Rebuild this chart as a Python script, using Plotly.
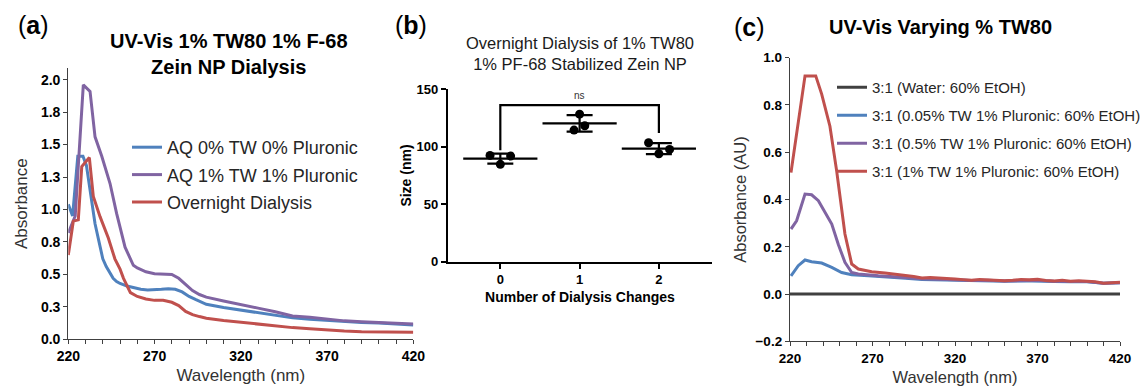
import plotly.graph_objects as go
import numpy as np

FONT = "Liberation Sans, Arial, sans-serif"
W, H = 1147, 389

# ---------------- Panel (a) data ----------------
a_blue_wl = [220, 222.5, 225.5, 228.5, 230.5, 233.5, 235.5, 238.5, 240, 242, 244, 246, 248, 250, 254, 258,
             262, 266, 270, 274, 278, 282, 286, 290, 294, 300, 310, 320, 330, 340, 350, 360, 370, 380,
             390, 400, 410, 420]
a_blue_abs = [1.04, 0.95, 1.41, 1.41, 1.34, 1.07, 0.89, 0.71, 0.62, 0.56, 0.51, 0.47, 0.445, 0.43, 0.41, 0.395,
              0.385, 0.38, 0.38, 0.385, 0.39, 0.385, 0.365, 0.33, 0.305, 0.27, 0.245, 0.225, 0.205, 0.19,
              0.165, 0.155, 0.145, 0.138, 0.13, 0.125, 0.115, 0.11]

a_purple_wl = [220, 224, 228.7, 232.6, 235.5, 239.4, 244.2, 248, 252.9, 257.7, 260, 265, 270, 275, 280, 284,
               288, 292, 296, 300, 310, 320, 330, 340, 350, 360, 370, 380, 390, 400, 410, 420]
a_purple_abs = [0.82, 0.95, 1.96, 1.91, 1.56, 1.41, 1.20, 0.97, 0.71, 0.57, 0.55, 0.52, 0.505, 0.505, 0.50, 0.47,
                0.42, 0.375, 0.345, 0.325, 0.295, 0.265, 0.24, 0.212, 0.18, 0.17, 0.155, 0.142, 0.136, 0.13,
                0.12, 0.118]

a_red_wl = [220, 222.9, 225.8, 227.8, 232.2, 234.5, 238.4, 243.2, 247, 250, 252, 254, 256, 260, 265, 270, 275,
            280, 284, 288, 292, 296, 300, 310, 320, 330, 340, 350, 360, 370, 380, 390, 400, 410, 420]
a_red_abs = [0.65, 0.91, 0.92, 1.33, 1.40, 1.10, 0.945, 0.78, 0.62, 0.54, 0.47, 0.41, 0.36, 0.33, 0.31, 0.30,
             0.30, 0.285, 0.26, 0.215, 0.19, 0.175, 0.162, 0.145, 0.13, 0.116, 0.103, 0.09, 0.082, 0.072,
             0.064, 0.059, 0.056, 0.054, 0.054]

a_names = ["AQ 0% TW 0% Pluronic", "AQ 1% TW 1% Pluronic", "Overnight Dialysis"]
a_ytickvals = [0.0, 0.25, 0.5, 0.75, 1.0, 1.25, 1.5, 1.75, 2.0]
a_yticktext = ["0.0", "0.3", "0.5", "0.8", "1.0", "1.3", "1.5", "1.8", "2.0"]
a_xtickvals = [220, 270, 320, 370, 420]

# ---------------- Panel (b) data ----------------
b_changes = [0, 1, 2]
b_replicates = [[92.5, 91.9, 84.7],
                [128.4, 118.3, 114.5],
                [103.5, 97.7, 93.9]]
b_yticks = [0, 50, 100, 150]
b_bracket_x = [0, 0, 2, 2]
b_bracket_y = [97, 136.3, 136.3, 112]
b_sig_label = "ns"
b_sig_y = 145
# horizontal scatter offsets of replicate dots (layout only)
b_jitter = [[-0.13, 0.13, 0.0], [0.0, 0.065, -0.07], [-0.13, 0.135, 0.0]]

# ---------------- Panel (c) data ----------------
c_water_wl = [220, 420]
c_water_abs = [0.0, 0.0]

c_blue_wl = [220.6, 225, 229.1, 233.1, 239.2, 245.3, 251.3, 257.4, 267.5, 283.6, 290, 300, 310, 320, 330, 340,
             350, 360, 370, 380, 390, 400, 410, 420]
c_blue_abs = [0.077, 0.12, 0.144, 0.137, 0.131, 0.113, 0.091, 0.082, 0.077, 0.072, 0.067, 0.062, 0.06, 0.057,
              0.055, 0.056, 0.054, 0.056, 0.056, 0.053, 0.052, 0.052, 0.046, 0.048]

c_purple_wl = [220.6, 224, 229.1, 233.1, 237.2, 241.2, 245.3, 249.3, 253.3, 257.4, 261.4, 273.5, 283.6, 290,
               300, 310, 320, 330, 340, 350, 360, 370, 380, 390, 400, 410, 420]
c_purple_abs = [0.275, 0.31, 0.423, 0.42, 0.395, 0.345, 0.296, 0.21, 0.134, 0.091, 0.085, 0.077, 0.074, 0.07,
                0.065, 0.064, 0.06, 0.057, 0.058, 0.055, 0.058, 0.058, 0.054, 0.053, 0.053, 0.046, 0.048]

c_red_wl = [220.6, 229.1, 235.6, 239.2, 244.2, 248.3, 253.3, 257.4, 261.4, 269.5, 277.6, 283.6, 290, 295, 300,
            305, 310, 315, 320, 325, 330, 335, 340, 345, 350, 355, 360, 365, 370, 375, 380, 385, 390, 395,
            400, 405, 410, 415, 420]
c_red_abs = [0.514, 0.923, 0.923, 0.846, 0.71, 0.52, 0.254, 0.127, 0.106, 0.094, 0.089, 0.085, 0.078, 0.074,
             0.068, 0.07, 0.069, 0.066, 0.064, 0.061, 0.058, 0.062, 0.06, 0.061, 0.056, 0.058, 0.062, 0.06,
             0.062, 0.057, 0.055, 0.058, 0.054, 0.056, 0.055, 0.052, 0.046, 0.047, 0.05]

c_names = ["3:1 (Water: 60% EtOH)", "3:1 (0.05% TW 1% Pluronic: 60% EtOH)",
           "3:1 (0.5% TW 1% Pluronic: 60% EtOH)", "3:1 (1% TW 1% Pluronic: 60% EtOH)"]
c_xtickvals = [220, 270, 320, 370, 420]
c_ytickvals = [-0.2, 0.0, 0.2, 0.4, 0.6, 0.8, 1.0]

# ---------------- styling ----------------
BLUE, PURPLE, RED, DARK = "#4F81BD", "#8064A2", "#C0504D", "#404040"


def px_x(v):
    return v / W


def px_y(v):
    return 1 - v / H


fig = go.Figure()

# Panel (a)
for wl, ab, name, col in [(a_blue_wl, a_blue_abs, a_names[0], BLUE),
                          (a_purple_wl, a_purple_abs, a_names[1], PURPLE),
                          (a_red_wl, a_red_abs, a_names[2], RED)]:
    fig.add_trace(go.Scatter(x=wl, y=ab, mode="lines", name=name, legend="legend",
                             legendgroup=name, line=dict(color=col, width=3),
                             xaxis="x", yaxis="y"))

# Panel (b)
b_means = [float(np.mean(r)) for r in b_replicates]
b_sds = [float(np.std(r, ddof=1)) for r in b_replicates]
dot_x, dot_y = [], []
for c, reps, jit in zip(b_changes, b_replicates, b_jitter):
    for v, j in zip(reps, jit):
        dot_x.append(c + j)
        dot_y.append(v)
fig.add_trace(go.Scatter(x=b_bracket_x, y=b_bracket_y, mode="lines", showlegend=False,
                         line=dict(color="black", width=2.2), xaxis="x2", yaxis="y2"))
fig.add_trace(go.Scatter(x=b_changes, y=b_means, mode="markers", showlegend=False,
                         marker=dict(symbol="line-ew-open", size=53, color="black",
                                     line=dict(color="black", width=2.2)),
                         error_y=dict(type="data", array=b_sds, visible=True, color="black",
                                      thickness=2.2, width=13),
                         xaxis="x2", yaxis="y2"))
fig.add_trace(go.Scatter(x=dot_x, y=dot_y, mode="markers", showlegend=False,
                         marker=dict(color="black", size=9), xaxis="x2", yaxis="y2"))

# Panel (c)
for wl, ab, name, col in [(c_water_wl, c_water_abs, c_names[0], DARK),
                          (c_blue_wl, c_blue_abs, c_names[1], BLUE),
                          (c_purple_wl, c_purple_abs, c_names[2], PURPLE),
                          (c_red_wl, c_red_abs, c_names[3], RED)]:
    fig.add_trace(go.Scatter(x=wl, y=ab, mode="lines", name=name, legend="legend2",
                             legendgroup=name, line=dict(color=col, width=3),
                             xaxis="x3", yaxis="y3"))

tickfont_a = dict(family=FONT, size=14, color="black", weight="bold")
tickfont_b = dict(family=FONT, size=13, color="black", weight="bold")

fig.update_layout(
    width=W, height=H, margin=dict(l=0, r=0, t=0, b=0, autoexpand=False),
    paper_bgcolor="white", plot_bgcolor="white",
    font=dict(family=FONT, color="black"),
    showlegend=True,
    xaxis=dict(domain=[px_x(68.3), px_x(413.3)], range=[220, 420], tickvals=a_xtickvals,
               showline=True, linecolor=DARK, linewidth=1.3, ticks="outside", ticklen=4,
               tickcolor=DARK, minor=dict(dtick=10, ticks="outside", ticklen=4, tickcolor=DARK),
               showgrid=False, zeroline=False, tickfont=tickfont_a, automargin=False,
               title=dict(text="Wavelength (nm)", font=dict(size=17, color="#333333"), standoff=5),
               anchor="y"),
    yaxis=dict(domain=[px_y(339.3), px_y(68)], range=[0, 2.09], tickvals=a_ytickvals,
               ticktext=a_yticktext, showline=True, linecolor=DARK, linewidth=1.3,
               ticks="outside", ticklen=4, tickcolor=DARK, showgrid=False, zeroline=False,
               tickfont=tickfont_a, automargin=False,
               title=dict(text="Absorbance", font=dict(size=17, color="#333333"), standoff=8),
               anchor="x"),
    xaxis2=dict(domain=[px_x(448), px_x(712)], range=[-0.66, 2.67], tickvals=b_changes,
                showline=True, linecolor="black", linewidth=2.2, ticks="outside", ticklen=5,
                tickwidth=2, tickcolor="black", showgrid=False, zeroline=False,
                tickfont=tickfont_b, automargin=False,
                title=dict(text="<b>Number of Dialysis Changes</b>", font=dict(size=14), standoff=6),
                anchor="y2"),
    yaxis2=dict(domain=[px_y(261.7), px_y(89.3)], range=[0, 150], tickvals=b_yticks,
                showline=True, linecolor="black", linewidth=2.2, ticks="outside", ticklen=5,
                tickwidth=2, tickcolor="black", showgrid=False, zeroline=False,
                tickfont=tickfont_b, automargin=False,
                title=dict(text="<b>Size (nm)</b>", font=dict(size=14), standoff=2),
                anchor="x2"),
    xaxis3=dict(domain=[px_x(790), px_x(1120)], range=[220, 420], tickvals=c_xtickvals,
                showline=True, linecolor=DARK, linewidth=1.3, ticks="outside", ticklen=4,
                tickcolor=DARK, minor=dict(dtick=10, ticks="outside", ticklen=4, tickcolor=DARK),
                showgrid=False, zeroline=False, tickfont=dict(tickfont_a, size=13.5),
                automargin=False,
                title=dict(text="Wavelength (nm)", font=dict(size=16.5, color="#333333"), standoff=6),
                anchor="y3"),
    yaxis3=dict(domain=[px_y(341.3), px_y(57.7)], range=[-0.2, 1.0], tickvals=c_ytickvals,
                tickformat=".1f", showline=True, linecolor=DARK, linewidth=1.3,
                ticks="outside", ticklen=4, tickcolor=DARK, showgrid=False, zeroline=False,
                tickfont=dict(tickfont_a, size=13.5), automargin=False,
                title=dict(text="Absorbance (AU)", font=dict(size=16.5, color="#333333"), standoff=4),
                anchor="x3"),
    legend=dict(x=px_x(127), y=px_y(129), xanchor="left", yanchor="top",
                font=dict(family=FONT, size=18, color="#262626"), bgcolor="rgba(0,0,0,0)",
                tracegroupgap=1, itemwidth=30),
    legend2=dict(x=px_x(832), y=px_y(71), xanchor="left", yanchor="top",
                 font=dict(family=FONT, size=15, color="#262626"), bgcolor="rgba(0,0,0,0)",
                 tracegroupgap=5.5, itemwidth=30),
)

annotations = [
    dict(text="(<b>a</b>)", x=px_x(33), y=px_y(25), font=dict(size=25)),
    dict(text="(<b>b</b>)", x=px_x(411), y=px_y(25), font=dict(size=25)),
    dict(text="(<b>c</b>)", x=px_x(750), y=px_y(27), font=dict(size=25)),
    dict(text="<b>UV-Vis 1% TW80 1% F-68<br>Zein NP Dialysis</b>", x=px_x(229), y=px_y(54),
         font=dict(size=20)),
    dict(text="Overnight Dialysis of 1% TW80<br>1% PF-68 Stabilized Zein NP", x=px_x(580),
         y=px_y(53), font=dict(size=16.5, color="#1a1a1a")),
    dict(text="<b>UV-Vis Varying % TW80</b>", x=px_x(940), y=px_y(27), font=dict(size=20)),
]
for a in annotations:
    a.update(xref="paper", yref="paper", showarrow=False, xanchor="center", yanchor="middle")
    a["font"] = dict(family=FONT, color=a["font"].get("color", "black"), size=a["font"]["size"])
    fig.add_annotation(**a)

fig.add_annotation(text=b_sig_label, x=1, y=b_sig_y, xref="x2", yref="y2", showarrow=False,
                   font=dict(family=FONT, size=10, color="#333333"))

fig.write_html("out.html")
